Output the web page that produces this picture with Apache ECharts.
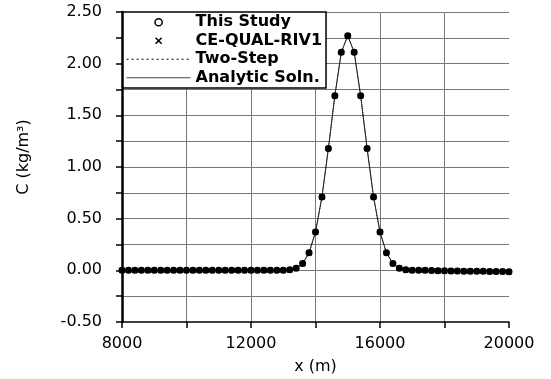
<!DOCTYPE html>
<html>
<head>
<meta charset="utf-8">
<script src="https://cdn.jsdelivr.net/npm/echarts@6/dist/echarts.min.js"></script>
<style>
  html, body { margin: 0; padding: 0; background: #fff; }
  #chart { width: 551px; height: 379px; }
</style>
</head>
<body>
<div id="chart"></div>
<script>
// distance along the river (m)
var xPos = [8000, 8200, 8400, 8600, 8800, 9000, 9200, 9400, 9600, 9800,
  10000, 10200, 10400, 10600, 10800, 11000, 11200, 11400, 11600, 11800,
  12000, 12200, 12400, 12600, 12800, 13000, 13200, 13400, 13600, 13800,
  14000, 14200, 14400, 14600, 14800, 15000, 15200, 15400, 15600, 15800,
  16000, 16200, 16400, 16600, 16800, 17000, 17200, 17400, 17600, 17800,
  18000, 18200, 18400, 18600, 18800, 19000, 19200, 19400, 19600, 19800, 20000];

// concentration (kg/m3) - all four curves lie on top of each other
var conc = [0, 0, 0, 0, 0, 0, 0, 0, 0, 0,
  0, 0, 0, 0, 0, 0, 0, 0, 0, 0,
  0, 0, 0, 0, 0, 0, 0.005, 0.02, 0.065, 0.17,
  0.37, 0.71, 1.18, 1.69, 2.11, 2.27, 2.11, 1.69, 1.18, 0.71,
  0.37, 0.17, 0.065, 0.02, 0.005, 0, 0, 0, -0.002, -0.004,
  -0.005, -0.006, -0.007, -0.008, -0.009, -0.01, -0.01, -0.011, -0.012, -0.012, -0.013];

var seriesNames = ['This Study', 'CE-QUAL-RIV1', 'Two-Step', 'Analytic Soln.'];
var xTicks = [8000, 12000, 16000, 20000];

function pairs() {
  var out = [];
  for (var i = 0; i < xPos.length; i++) out.push([xPos[i], conc[i]]);
  return out;
}

var crossPath = 'path://M0,1.5L1.5,0L5,3.5L8.5,0L10,1.5L6.5,5L10,8.5L8.5,10L5,6.5L1.5,10L0,8.5L3.5,5Z';
var font = 'DejaVu Sans';

var chart = echarts.init(document.getElementById('chart'), null, { renderer: 'canvas' });

var option = {
  animation: false,
  backgroundColor: '#fff',
  grid: {
    left: 122, right: 42, top: 12, bottom: 57,
    containLabel: false, outerBoundsMode: 'none'
  },
  legend: {
    orient: 'vertical',
    left: 123, top: 12,
    backgroundColor: '#fff',
    borderColor: '#000',
    borderWidth: 1.5,
    borderRadius: 0,
    padding: [1, 4, 1, 3],
    itemGap: 0,
    itemWidth: 64,
    itemHeight: 9,
    textStyle: { fontFamily: font, fontWeight: 'bold', fontSize: 16, color: '#000', lineHeight: 18.5 },
    data: [
      { name: seriesNames[0], lineStyle: { opacity: 0 },
        itemStyle: { color: '#fff', borderColor: '#000', borderWidth: 1.5 } },
      { name: seriesNames[1], lineStyle: { opacity: 0 } },
      { name: seriesNames[2], itemStyle: { opacity: 0 },
        lineStyle: { width: 1.2, color: '#000', type: [2, 3] } },
      { name: seriesNames[3], itemStyle: { opacity: 0 },
        lineStyle: { width: 1, color: '#444', type: 'solid' } }
    ]
  },
  xAxis: {
    type: 'value',
    min: 8000, max: 20000, interval: 2000,
    name: 'x (m)',
    nameLocation: 'middle',
    nameGap: 37,
    nameTextStyle: { fontFamily: font, fontSize: 16, color: '#000' },
    axisLine: { onZero: false, lineStyle: { color: '#000', width: 1.5 } },
    axisTick: { inside: false, length: 6, lineStyle: { color: '#000', width: 1.5 } },
    axisLabel: {
      margin: 14,
      fontFamily: font, fontSize: 16, color: '#000',
      formatter: function (v) { return xTicks.indexOf(v) >= 0 ? String(v) : ''; }
    },
    splitLine: { show: true, showMinLine: false, showMaxLine: false, lineStyle: { color: '#777', width: 1 } }
  },
  yAxis: {
    type: 'value',
    min: -0.5, max: 2.5, interval: 0.25,
    name: 'C (kg/m\u00b3)',
    nameLocation: 'middle',
    nameGap: 90,
    nameRotate: 90,
    nameTextStyle: { fontFamily: font, fontSize: 16, color: '#000', padding: [0, 0, 0, 20] },
    axisLine: { show: true, lineStyle: { color: '#000', width: 2.5 } },
    axisTick: { show: true, inside: false, length: 6, lineStyle: { color: '#000', width: 1.5 } },
    axisLabel: {
      margin: 20,
      fontFamily: font, fontSize: 16, color: '#000',
      formatter: function (v) {
        var h = v * 2;
        return Math.abs(h - Math.round(h)) < 1e-6 ? v.toFixed(2) : '';
      }
    },
    splitLine: { show: true, showMinLine: false, lineStyle: { color: '#777', width: 1 } }
  },
  series: [
    {
      name: seriesNames[0], type: 'line', data: pairs(),
      symbol: 'circle', symbolSize: 7, showSymbol: true,
      itemStyle: { color: '#000' },
      lineStyle: { width: 0, opacity: 0 }, z: 3
    },
    {
      name: seriesNames[1], type: 'line', data: pairs(),
      symbol: crossPath, symbolSize: 6, showSymbol: true,
      itemStyle: { color: '#000' },
      lineStyle: { width: 0, opacity: 0 }, z: 4
    },
    {
      name: seriesNames[2], type: 'line', data: pairs(),
      symbol: 'none',
      itemStyle: { color: '#000' },
      lineStyle: { color: '#000', width: 1, type: 'dotted' }, z: 2
    },
    {
      name: seriesNames[3], type: 'line', data: pairs(),
      symbol: 'none',
      itemStyle: { color: '#000' },
      lineStyle: { color: '#222', width: 1 }, z: 2
    }
  ]
};

chart.setOption(option);
</script>
</body>
</html>
